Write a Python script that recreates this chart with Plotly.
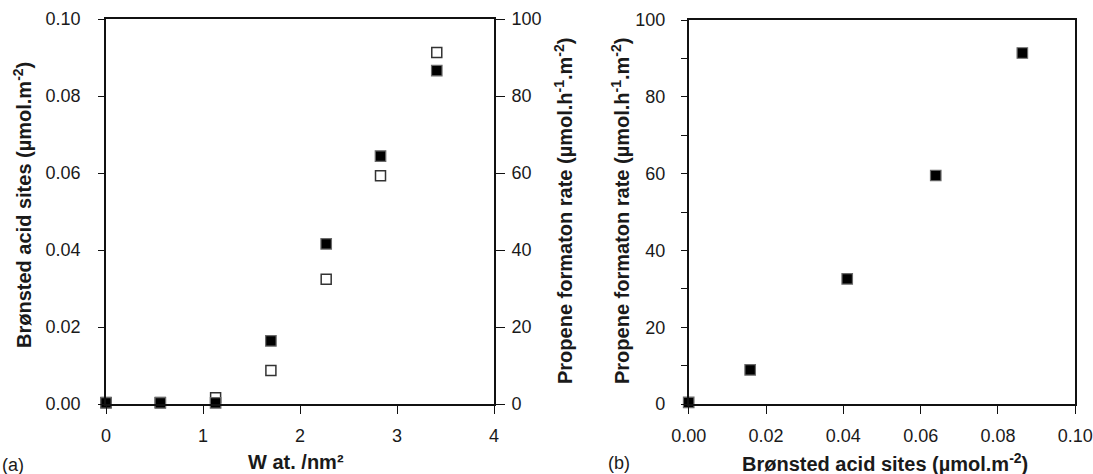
import plotly.graph_objects as go

# ---- data ----
w_loading = [0.0, 0.56, 1.13, 1.70, 2.27, 2.83, 3.41]
bronsted_a = [0.0003, 0.0003, 0.0003, 0.0164, 0.0416, 0.0644, 0.0866]
propene_a = [0.4, 0.4, 1.6, 8.7, 32.4, 59.3, 91.3]

bronsted_b = [0.0, 0.0159, 0.0410, 0.0639, 0.0863]
propene_b = [0.4, 8.9, 32.6, 59.5, 91.4]

W, H = 1093, 474
def px(x): return x / W
def py(y): return 1 - y / H

FONT = "Liberation Sans, Arial, sans-serif"
TICKF = dict(family=FONT, size=18, color="#1a1a1a")
AX = "#111111"

fig = go.Figure()

filled = dict(symbol="square", size=10.5, color="#000000", line=dict(color="#6a6a6a", width=1.2))
opened = dict(symbol="square", size=10, color="#ffffff", line=dict(color="#333333", width=1.5))

# propene rate (open) on the right axis "y"; Brønsted sites (filled) on overlaying left axis "y2"
fig.add_trace(go.Scatter(x=w_loading, y=propene_a, mode="markers", marker=opened,
                         xaxis="x", yaxis="y", cliponaxis=False, showlegend=False))
fig.add_trace(go.Scatter(x=w_loading, y=bronsted_a, mode="markers", marker=filled,
                         xaxis="x", yaxis="y2", cliponaxis=False, showlegend=False))
fig.add_trace(go.Scatter(x=bronsted_b, y=propene_b, mode="markers", marker=filled,
                         xaxis="x2", yaxis="y3", cliponaxis=False, showlegend=False))

common = dict(showgrid=False, zeroline=False, showline=True, linecolor=AX, linewidth=1.6,
              ticks="outside", tickcolor=AX, tickwidth=1.2, tickfont=TICKF, automargin=False)

fig.update_layout(
    width=W, height=H, margin=dict(l=0, r=0, t=0, b=0, autoexpand=False),
    paper_bgcolor="white", plot_bgcolor="white",
    xaxis=dict(domain=[px(106), px(494)], range=[0, 4], dtick=1, anchor="y",
               ticklen=8, mirror=True, ticklabelstandoff=7, **common),
    yaxis=dict(domain=[py(404), py(19)], range=[0, 100], dtick=20, side="right", anchor="x",
               ticklen=9, ticklabelstandoff=3, **common),
    yaxis2=dict(range=[0, 0.1], dtick=0.02, tickformat=".2f", overlaying="y", side="left",
                anchor="x", ticklen=6, ticklabelstandoff=14, **common),
    xaxis2=dict(domain=[px(688.7), px(1075.3)], range=[0, 0.1], dtick=0.02, tickformat=".2f",
                anchor="y3", ticklen=8, mirror=True, ticklabelstandoff=7, **common),
    yaxis3=dict(domain=[py(404), py(20)], range=[0, 100], dtick=20, anchor="x2",
                ticklen=6, mirror=True, ticklabelstandoff=12,
                minor=dict(dtick=10, ticks="outside", ticklen=6, tickcolor=AX, tickwidth=1.2),
                **common),
)

TF = dict(family=FONT, size=20, color="#1a1a1a")
def ann(text, x, y, angle=0, font=TF):
    fig.add_annotation(text=text, x=px(x), y=py(y), xref="paper", yref="paper",
                       showarrow=False, textangle=angle, xanchor="center", yanchor="middle",
                       font=font)

ann("<b>Brønsted acid sites (µmol.m<sup>-2</sup>)</b>", 23, 205, -90)
ann("<b>Propene formaton rate (µmol.h<sup>-1</sup>.m<sup>-2</sup>)</b>", 563, 211, -90)
ann("<b>Propene formaton rate (µmol.h<sup>-1</sup>.m<sup>-2</sup>)</b>", 620, 211, -90)
ann("<b>W at. /nm²</b>", 296, 462)
ann("<b>Brønsted acid sites (µmol.m<sup>-2</sup>)</b>", 885, 462)
ann("(a)", 13, 465, 0, dict(family=FONT, size=18, color="#1a1a1a"))
ann("(b)", 619, 463, 0, dict(family=FONT, size=18, color="#1a1a1a"))

fig.write_html("out.html")
